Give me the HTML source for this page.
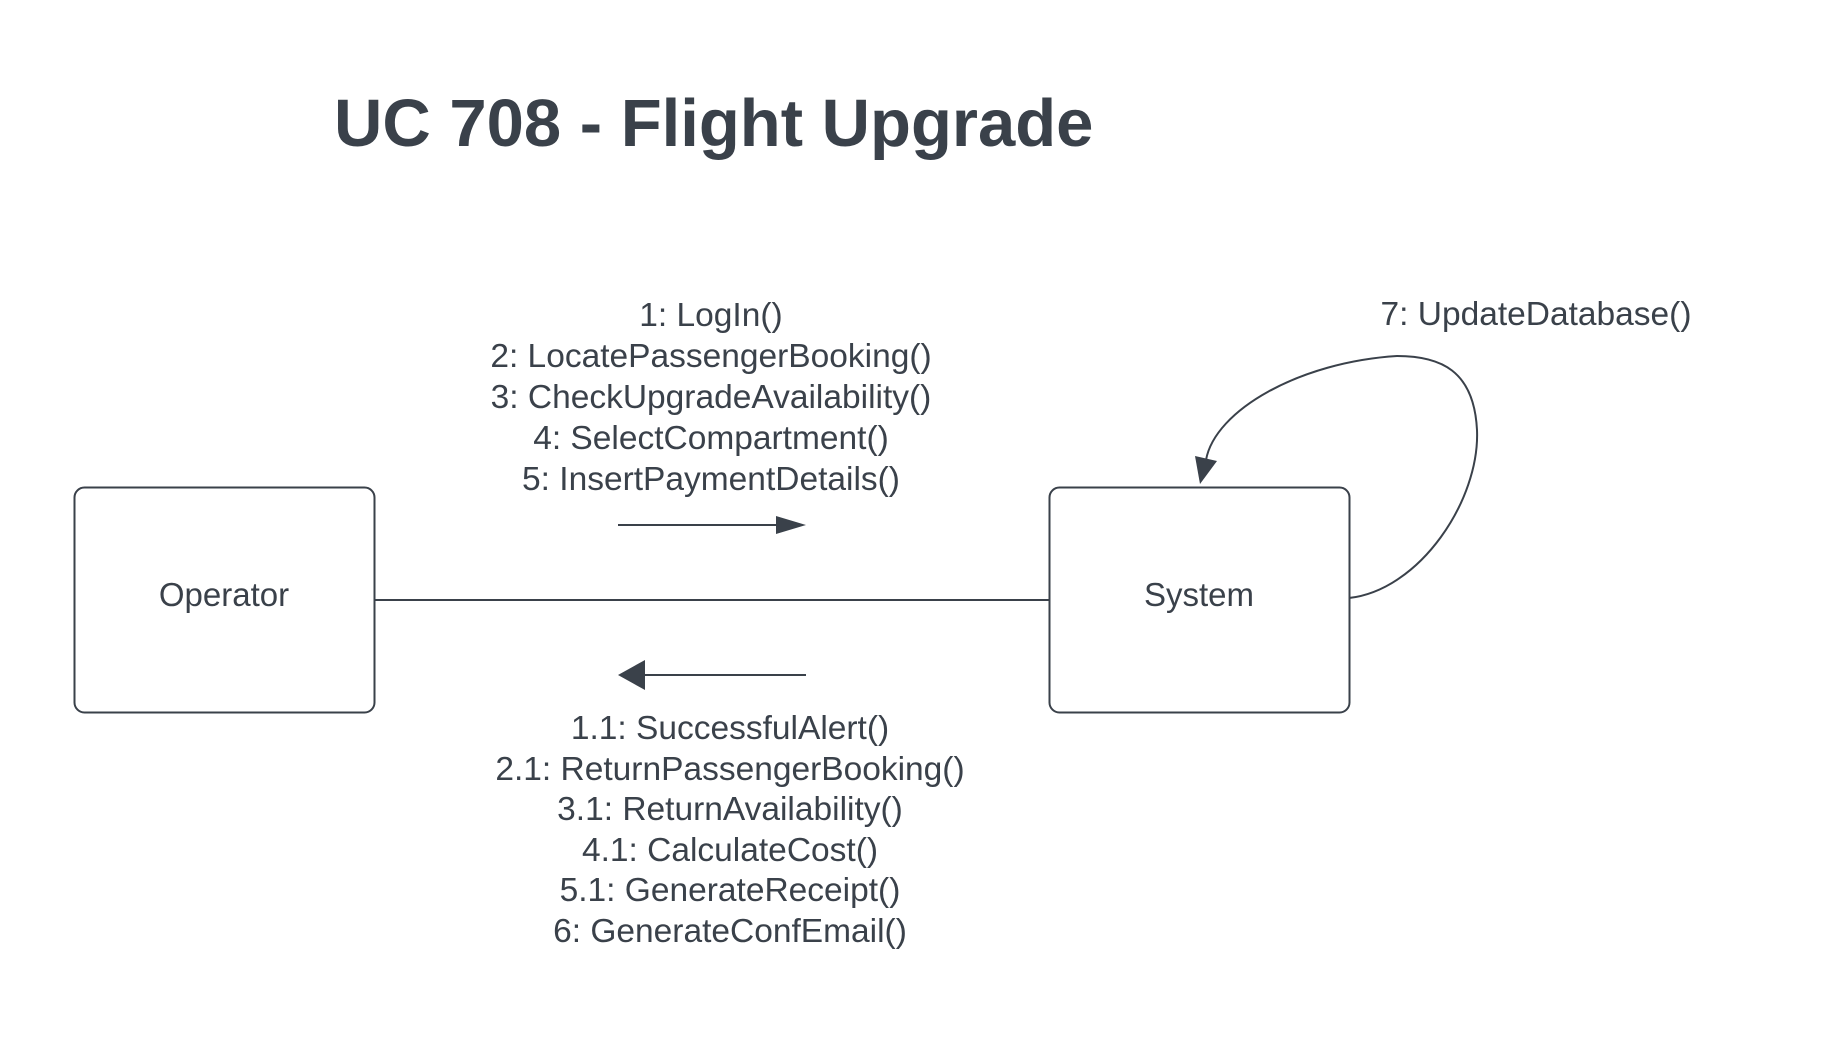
<!DOCTYPE html>
<html><head><meta charset="utf-8"><style>
body{margin:0;background:#fff;}
svg{display:block}
text{font-family:"Liberation Sans",Arial,sans-serif;fill:#3a414a}
</style></head><body>
<svg width="1838" height="1050" viewBox="0 0 1838 1050" xmlns="http://www.w3.org/2000/svg">
<text x="334" y="146" font-size="67" font-weight="bold">UC 708 - Flight Upgrade</text>
<rect x="74.5" y="487.5" width="300" height="225" rx="10" fill="#fff" stroke="#3a414a" stroke-width="2"/>
<rect x="1049.5" y="487.5" width="300" height="225" rx="10" fill="#fff" stroke="#3a414a" stroke-width="2"/>
<text x="224" y="606" font-size="33" text-anchor="middle">Operator</text>
<text x="1199" y="606" font-size="33" text-anchor="middle">System</text>
<line x1="375" y1="600" x2="1049" y2="600" stroke="#3a414a" stroke-width="2"/>
<line x1="618" y1="525" x2="780" y2="525" stroke="#3a414a" stroke-width="2"/>
<polygon points="806,525 776,516 776,534" fill="#3a414a"/>
<line x1="643" y1="675" x2="806" y2="675" stroke="#3a414a" stroke-width="2"/>
<polygon points="618,675 645,660 645,690" fill="#3a414a"/>
<path d="M1349,598 C1420,590 1480,500 1477,430 C1474,370 1440,356 1397,356 C1300,362 1215,410 1206,460" fill="none" stroke="#3a414a" stroke-width="2"/>
<polygon points="1200,484 1195,456 1217,461" fill="#3a414a"/>
<g font-size="33.5" text-anchor="middle">
<text x="711" y="326">1: LogIn()</text>
<text x="711" y="367">2: LocatePassengerBooking()</text>
<text x="711" y="408">3: CheckUpgradeAvailability()</text>
<text x="711" y="449">4: SelectCompartment()</text>
<text x="711" y="490">5: InsertPaymentDetails()</text>
<text x="730" y="739">1.1: SuccessfulAlert()</text>
<text x="730" y="780">2.1: ReturnPassengerBooking()</text>
<text x="730" y="820">3.1: ReturnAvailability()</text>
<text x="730" y="861">4.1: CalculateCost()</text>
<text x="730" y="901">5.1: GenerateReceipt()</text>
<text x="730" y="942">6: GenerateConfEmail()</text>
<text x="1536" y="325">7: UpdateDatabase()</text>
</g>
</svg>
</body></html>
